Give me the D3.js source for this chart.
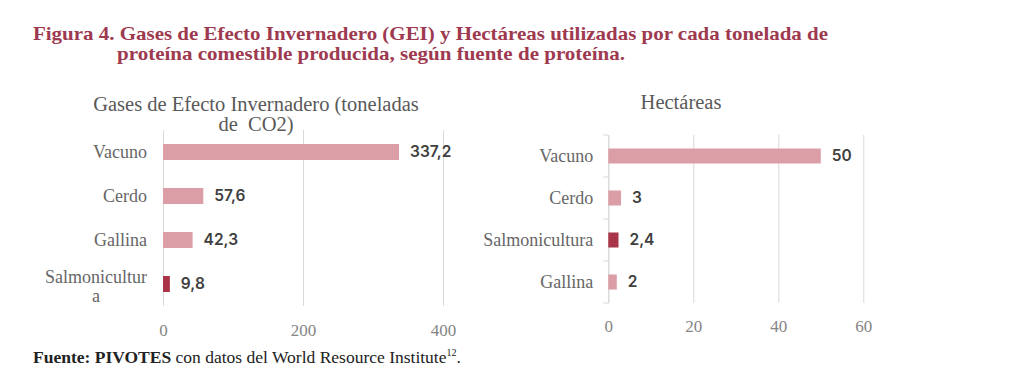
<!DOCTYPE html>
<html><head><meta charset="utf-8">
<script src="https://cdn.jsdelivr.net/npm/d3@7"></script>
<style>
html,body{margin:0;padding:0;background:#fff;}
svg{display:block;}
</style></head>
<body>
<svg id="c" width="1024" height="384"></svg>
<script>
// ---- Data ----
const titleLines = ["Figura 4. Gases de Efecto Invernadero (GEI) y Hectáreas utilizadas por cada tonelada de",
                    "proteína comestible producida, según fuente de proteína."];
const gasTitle = ["Gases de Efecto Invernadero (toneladas", "de\u00a0 CO2)"];
const gasCategories = ["Vacuno", "Cerdo", "Gallina", "Salmonicultura"];
const gasValues = [337.2, 57.6, 42.3, 9.8];
const gasLabels = ["337,2", "57,6", "42,3", "9,8"];
const gasTicks = [0, 200, 400];

const haTitle = ["Hectáreas"];
const haCategories = ["Vacuno", "Cerdo", "Salmonicultura", "Gallina"];
const haValues = [50, 3, 2.4, 2];
const haLabels = ["50", "3", "2,4", "2"];
const haTicks = [0, 20, 40, 60];

const highlight = "Salmonicultura";
const sourceBold = "Fuente: PIVOTES";
const sourceRest = " con datos del World Resource Institute";
const sourceSup = "12";

// ---- Styles ----
const PINK = "#dc9ea6", DARK = "#a93347", TITLE = "#9e3a50";
const GRID = "#d9d9d9";
const SERIF = "'Liberation Serif', 'DejaVu Serif', serif";
const SANS = "Inter, Roboto, 'Liberation Sans', sans-serif";

const svg = d3.select("#c");

// Title
const tt = svg.append("text").attr("font-family", SERIF).attr("font-weight", "bold")
  .attr("font-size", 19).attr("fill", TITLE);
tt.append("tspan").attr("x", 33).attr("y", 40).attr("textLength", 795).attr("lengthAdjust", "spacingAndGlyphs").text(titleLines[0]);
tt.append("tspan").attr("x", 117).attr("y", 60).attr("textLength", 508).attr("lengthAdjust", "spacingAndGlyphs").text(titleLines[1]);

function panel(cfg) {
  const g = svg.append("g");
  const x = d3.scaleLinear().domain(cfg.domain).range([cfg.x0, cfg.x1]);
  const y = d3.scaleBand().domain(cfg.categories).range([cfg.y0, cfg.y1]).paddingInner(cfg.pad).paddingOuter(cfg.pad / 2);

  // grid
  const gx = g.append("g").attr("transform", `translate(0,${cfg.y1})`)
    .call(d3.axisBottom(x).tickValues(cfg.ticks).tickSize(-(cfg.y1 - cfg.gridTop)).tickPadding(cfg.tickPad));
  gx.select(".domain").remove();
  gx.selectAll(".tick line").attr("stroke", GRID).attr("stroke-width", 1);
  gx.selectAll(".tick text").attr("font-family", SERIF).attr("font-size", 17).attr("fill", "#858585");

  // chart title
  const t = g.append("text").attr("font-family", SERIF).attr("font-size", 20.5).attr("fill", "#595959")
    .attr("text-anchor", "middle");
  cfg.title.forEach((l, i) => t.append("tspan").attr("x", cfg.titleX).attr("y", cfg.titleY + i * 20).text(l));

  // category axis
  const gy = g.append("g").attr("transform", `translate(${cfg.x0},0)`)
    .call(d3.axisLeft(y).tickSize(0).tickPadding(cfg.labelPad));
  gy.select(".domain").attr("stroke", cfg.showAxis ? GRID : "none");
  gy.selectAll(".tick text").attr("font-family", SERIF).attr("font-size", 18).attr("fill", "#666");
  if (cfg.showAxis) {
    const bounds = y.domain().map(c => y(c) - y.step() * y.paddingInner() / 2).concat([cfg.y1]);
    g.selectAll(".cattick").data(bounds).join("line")
      .attr("x1", cfg.x0 - 5).attr("x2", cfg.x0).attr("y1", d => d).attr("y2", d => d)
      .attr("stroke", GRID);
  }
  // wrap long labels
  gy.selectAll(".tick text").each(function(d) {
    const el = d3.select(this);
    if (this.getComputedTextLength() > cfg.maxLabel) {
      const full = d;
      let line = "";
      const lines = [];
      for (const ch of full) {
        el.text(line + ch);
        if (this.getComputedTextLength() > cfg.maxLabel) { lines.push(line); line = ch; }
        else line += ch;
      }
      lines.push(line);
      el.text(lines[0]);
      const w = this.getComputedTextLength();
      const cx = -cfg.labelPad - w / 2;
      el.text(null).attr("text-anchor", "middle").attr("dy", null);
      lines.forEach((l, i) => el.append("tspan").attr("x", cx)
        .attr("y", (i - (lines.length - 1) / 2) * 19 + 3).attr("dy", "0.32em").text(l));
    }
  });

  // bars
  const data = cfg.categories.map((c, i) => ({ c, v: cfg.values[i], l: cfg.labels[i] }));
  g.selectAll(".bar").data(data).join("rect")
    .attr("x", x(0)).attr("y", d => y(d.c) + (y.bandwidth() - cfg.barH) / 2)
    .attr("width", d => x(d.v) - x(0)).attr("height", cfg.barH)
    .attr("fill", d => d.c === highlight ? DARK : PINK);

  g.selectAll(".val").data(data).join("text")
    .attr("x", d => x(d.v) + 11).attr("y", d => y(d.c) + y.bandwidth() / 2).attr("dy", "0.35em")
    .attr("font-family", SANS).attr("font-weight", 600).attr("font-size", 15.5).attr("fill", "#404040")
    .text(d => d.l);
}

panel({
  title: gasTitle, titleX: 256, titleY: 111,
  categories: gasCategories, values: gasValues, labels: gasLabels, ticks: gasTicks,
  domain: [0, 400], x0: 163, x1: 443, y0: 130, y1: 306, gridTop: 130, pad: 0.64, barH: 16,
  labelPad: 16, maxLabel: 106, tickPad: 18, showAxis: false
});

panel({
  title: haTitle, titleX: 681, titleY: 109,
  categories: haCategories, values: haValues, labels: haLabels, ticks: haTicks,
  domain: [0, 60], x0: 608.3, x1: 863.3, y0: 135, y1: 303, gridTop: 135, pad: 0.64, barH: 15,
  labelPad: 15, maxLabel: 150, tickPad: 17, showAxis: true
});

// Source
const src = svg.append("text").attr("x", 33).attr("y", 363).attr("font-family", SERIF)
  .attr("font-size", 17.5).attr("fill", "#222");
src.append("tspan").attr("font-weight", "bold").text(sourceBold);
src.append("tspan").text(sourceRest);
src.append("tspan").attr("font-size", 10).attr("dy", -7).text(sourceSup);
src.append("tspan").attr("dy", 7).text(".");
</script>
</body></html>
